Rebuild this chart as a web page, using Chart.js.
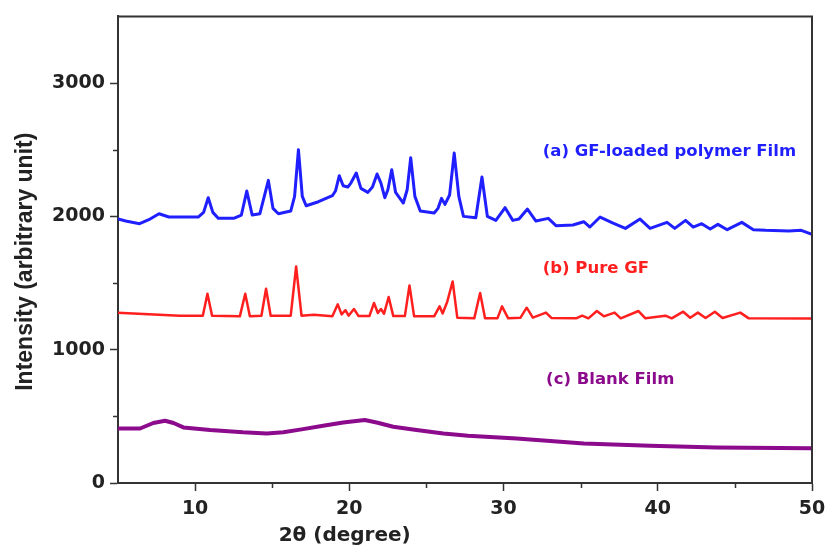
<!DOCTYPE html>
<html>
<head>
<meta charset="utf-8">
<script src="https://cdn.jsdelivr.net/npm/chart.js@4.4.1/dist/chart.umd.min.js"></script>
<style>
  html, body { margin: 0; padding: 0; background: #ffffff; }
  #wrap { width: 827px; height: 551px; }
</style>
</head>
<body>
<div id="wrap"><canvas id="xrd" width="827" height="551"></canvas></div>
<script>
// X-ray diffraction patterns: 2θ angle (degree) against intensity (arbitrary unit)

// (a) GF-loaded polymer film
const filmGfAngle = [5.0, 5.5, 6.4, 7.0, 7.66, 8.3, 9.0, 10.2, 10.55, 10.85, 11.15, 11.5, 12.5, 13.0, 13.35, 13.7, 14.2, 14.75, 15.05, 15.4, 16.2, 16.45, 16.7, 16.95, 17.2, 18.0, 18.9, 19.1, 19.35, 19.6, 19.9, 20.1, 20.45, 20.75, 21.2, 21.5, 21.8, 22.05, 22.3, 22.5, 22.75, 23.0, 23.5, 23.75, 23.98, 24.25, 24.6, 25.5, 25.75, 25.98, 26.2, 26.5, 26.8, 27.1, 27.4, 28.2, 28.6, 28.95, 29.5, 30.1, 30.6, 31.0, 31.55, 32.1, 32.9, 33.4, 34.5, 35.2, 35.6, 36.26, 37.1, 37.9, 38.85, 39.5, 40.6, 41.1, 41.8, 42.3, 42.85, 43.4, 43.9, 44.5, 45.45, 46.2, 47.0, 48.5, 49.3, 50.0];
const filmGfIntensity = [1980, 1965, 1945, 1975, 2020, 1995, 1995, 1995, 2030, 2140, 2030, 1985, 1985, 2010, 2190, 2010, 2020, 2270, 2060, 2020, 2040, 2150, 2500, 2150, 2080, 2110, 2155, 2190, 2305, 2230, 2220, 2250, 2325, 2210, 2180, 2220, 2318, 2250, 2140, 2200, 2350, 2180, 2100, 2200, 2440, 2150, 2040, 2025, 2060, 2135, 2090, 2160, 2475, 2150, 2000, 1990, 2295, 2000, 1970, 2065, 1970, 1980, 2055, 1965, 1985, 1930, 1935, 1960, 1920, 1995, 1950, 1910, 1980, 1910, 1955, 1910, 1970, 1920, 1945, 1905, 1940, 1900, 1955, 1900, 1895, 1890, 1895, 1865];

// (b) pure GF
const pureGfAngle = [5.0, 7.0, 9.0, 10.5, 10.8, 11.1, 12.9, 13.25, 13.55, 14.3, 14.6, 14.9, 16.2, 16.55, 16.9, 17.7, 18.9, 19.25, 19.5, 19.75, 19.95, 20.3, 20.6, 21.3, 21.6, 21.85, 22.05, 22.25, 22.55, 22.85, 23.6, 23.9, 24.2, 25.5, 25.85, 26.05, 26.35, 26.7, 27.0, 28.1, 28.48, 28.8, 29.6, 29.9, 30.3, 31.1, 31.5, 31.9, 32.75, 33.1, 34.7, 35.1, 35.5, 36.05, 36.5, 37.2, 37.6, 38.75, 39.2, 40.5, 40.9, 41.65, 42.1, 42.6, 43.1, 43.7, 44.2, 45.35, 45.9, 50.0];
const pureGfIntensity = [1278, 1265, 1255, 1255, 1420, 1255, 1250, 1420, 1250, 1255, 1457, 1255, 1255, 1624, 1255, 1262, 1250, 1340, 1265, 1296, 1255, 1305, 1252, 1252, 1350, 1275, 1305, 1270, 1395, 1252, 1252, 1482, 1250, 1250, 1325, 1272, 1360, 1512, 1240, 1235, 1425, 1235, 1235, 1325, 1235, 1240, 1315, 1240, 1278, 1238, 1235, 1255, 1235, 1290, 1250, 1278, 1235, 1290, 1235, 1255, 1235, 1285, 1240, 1278, 1238, 1285, 1238, 1278, 1235, 1233];

// (c) blank film
const blankAngle = [5.0, 6.43, 7.29, 8.05, 8.6, 9.24, 10.97, 13.1, 14.64, 15.72, 17.0, 18.3, 19.6, 21.0, 21.77, 22.85, 24.36, 26.1, 27.7, 30.85, 35.2, 39.5, 43.8, 49.9, 50.0];
const blankIntensity = [409, 409, 450, 467, 450, 417, 397, 380, 372, 380, 404, 429, 454, 472, 454, 422, 397, 372, 355, 334, 297, 280, 267, 260, 258];

// axis ticks
const xMajorTicks = [10, 20, 30, 40, 50];
const xMinorTicks = [15, 25, 35, 45];
const yMajorTicks = [0, 1000, 2000, 3000];
const yMinorTicks = [500, 1500, 2500];

// curve captions, anchored in data coordinates
const captionText = ['(a) GF-loaded polymer Film', '(b) Pure GF', '(c) Blank Film'];
const captionAngle = [32.54, 32.54, 32.76];
const captionLevel = [2485, 1607, 771];

const BLUE = '#1f1fff';
const RED = '#ff1f1f';
const PURPLE = '#8c0a8c';
const AXIS = '#333333';
const TEXT = '#222222';
const TICK_FONT = { family: '"DejaVu Sans", sans-serif', size: 19, weight: 'bold' };

const toPoints = (xs, ys) => xs.map((v, i) => ({ x: v, y: ys[i] }));

const decor = {
  id: 'decor',
  afterDraw(chart) {
    const { ctx, chartArea: a, scales: { x, y } } = chart;
    ctx.save();
    // top and right edges of the frame
    ctx.strokeStyle = AXIS;
    ctx.lineWidth = 2;
    ctx.beginPath();
    ctx.moveTo(a.left, a.top);
    ctx.lineTo(a.right, a.top);
    ctx.lineTo(a.right, a.bottom);
    ctx.stroke();
    // minor tick marks
    ctx.lineWidth = 1.5;
    ctx.beginPath();
    xMinorTicks.forEach(v => {
      const px = Math.round(x.getPixelForValue(v)) + 0.5;
      ctx.moveTo(px, a.bottom);
      ctx.lineTo(px, a.bottom + 5);
    });
    yMinorTicks.forEach(v => {
      const py = Math.round(y.getPixelForValue(v)) + 0.5;
      ctx.moveTo(a.left, py);
      ctx.lineTo(a.left - 5, py);
    });
    ctx.stroke();
    // captions beside each pattern
    const colors = [BLUE, RED, PURPLE];
    ctx.font = 'bold 16.5px "DejaVu Sans", sans-serif';
    ctx.textAlign = 'left';
    ctx.textBaseline = 'middle';
    captionText.forEach((t, i) => {
      ctx.fillStyle = colors[i];
      ctx.fillText(t, x.getPixelForValue(captionAngle[i]), y.getPixelForValue(captionLevel[i]));
    });
    // axis titles
    ctx.fillStyle = TEXT;
    ctx.textAlign = 'center';
    ctx.font = 'bold 20px "DejaVu Sans", sans-serif';
    ctx.fillText('2θ (degree)', x.getPixelForValue(19.7), a.bottom + 53);
    ctx.translate(26, y.getPixelForValue(1660));
    ctx.rotate(-Math.PI / 2);
    ctx.font = 'bold 23px "Liberation Sans", Arial, sans-serif';
    ctx.fillText('Intensity (arbitrary unit)', 0, 0);
    ctx.restore();
  }
};

new Chart(document.getElementById('xrd'), {
  type: 'line',
  data: {
    datasets: [
      { data: toPoints(filmGfAngle, filmGfIntensity), borderColor: BLUE, borderWidth: 3 },
      { data: toPoints(pureGfAngle, pureGfIntensity), borderColor: RED, borderWidth: 2.5 },
      { data: toPoints(blankAngle, blankIntensity), borderColor: PURPLE, borderWidth: 4 }
    ]
  },
  options: {
    responsive: false,
    animation: false,
    devicePixelRatio: 1,
    layout: { padding: { left: 0, right: 15, top: 12, bottom: 0 } },
    elements: { point: { radius: 0 }, line: { tension: 0, borderJoinStyle: 'round', borderCapStyle: 'round' } },
    plugins: { legend: { display: false }, tooltip: { enabled: false } },
    scales: {
      x: {
        type: 'linear',
        min: 5,
        max: 50,
        afterBuildTicks: s => { s.ticks = xMajorTicks.map(v => ({ value: v })); },
        afterFit: s => { s.height = 68; s.paddingLeft = 0; s.paddingRight = 15; },
        grid: { drawOnChartArea: false, drawTicks: true, tickLength: 8, tickColor: AXIS, tickWidth: 1.5 },
        border: { color: AXIS, width: 2 },
        ticks: { color: TEXT, font: TICK_FONT, padding: 7, maxRotation: 0, callback: v => String(v) }
      },
      y: {
        type: 'linear',
        min: 0,
        max: 3500,
        afterBuildTicks: s => { s.ticks = yMajorTicks.map(v => ({ value: v })); },
        afterFit: s => { s.width = 118; },
        grid: { drawOnChartArea: false, drawTicks: true, tickLength: 8, tickColor: AXIS, tickWidth: 1.5 },
        border: { color: AXIS, width: 2 },
        ticks: { color: TEXT, font: TICK_FONT, padding: 5, callback: v => String(v) }
      }
    }
  },
  plugins: [decor]
});
</script>
</body>
</html>
